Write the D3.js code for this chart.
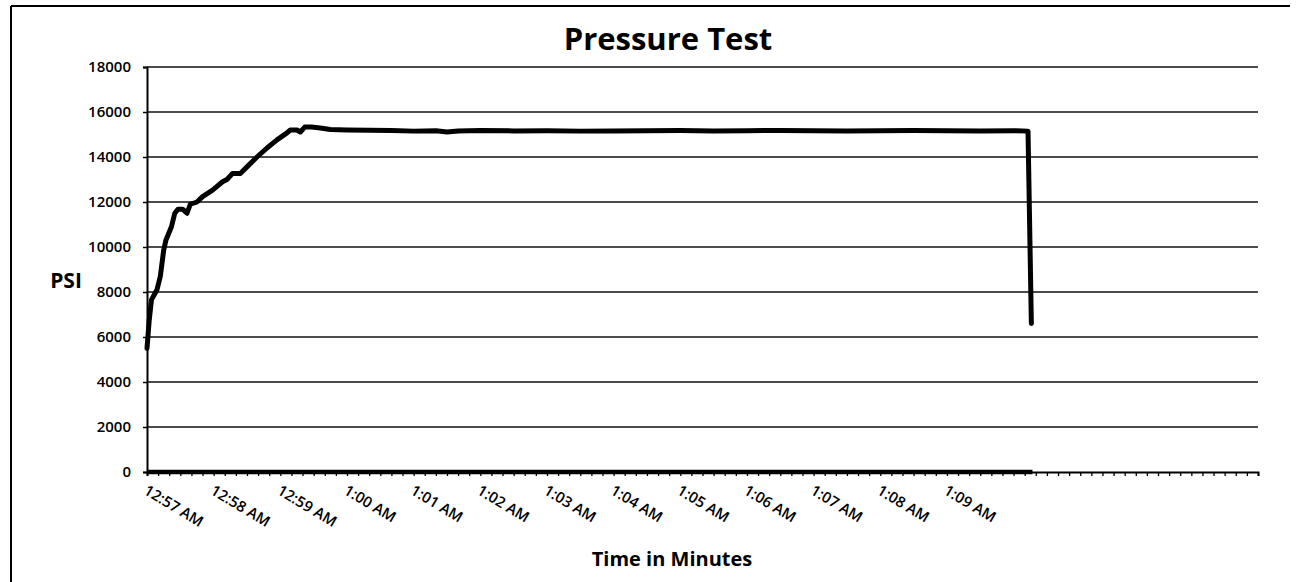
<!DOCTYPE html>
<html>
<head>
<meta charset="utf-8">
<script src="https://cdn.jsdelivr.net/npm/d3@7/dist/d3.min.js"></script>
<style>
  html, body { margin: 0; padding: 0; background: #fff; }
  svg { display: block; }
  text { font-family: "Open Sans", "Liberation Sans", sans-serif; fill: #000; }
</style>
</head>
<body>
<svg id="chart" width="1308" height="582"></svg>
<script>
// ---- data (seconds after 12:57:00 AM) ----
const pressureSeconds = [0, 2, 4, 9, 12, 15, 17, 22, 25, 28, 32, 36, 39, 45, 50, 59, 68, 72, 77, 84, 90, 99, 108, 117, 126, 129, 135, 138, 142, 148, 156, 165, 180, 200, 220, 240, 260, 270, 280, 300, 330, 360, 390, 420, 450, 480, 510, 540, 570, 600, 630, 660, 690, 720, 750, 780, 793, 796];
const pressurePsi     = [5500, 6750, 7650, 8100, 8700, 9850, 10300, 10900, 11500, 11680, 11680, 11500, 11900, 12000, 12240, 12530, 12900, 13000, 13270, 13270, 13560, 14000, 14400, 14760, 15070, 15200, 15200, 15110, 15330, 15330, 15290, 15220, 15200, 15190, 15180, 15150, 15170, 15110, 15160, 15180, 15160, 15170, 15150, 15160, 15170, 15180, 15160, 15170, 15180, 15170, 15160, 15170, 15180, 15170, 15160, 15170, 15150, 6600];
const baseSeconds = [0, 797];
const basePsi     = [0, 0];
const yTicks = [0, 2000, 4000, 6000, 8000, 10000, 12000, 14000, 16000, 18000];
const timeLabels = ["12:57 AM", "12:58 AM", "12:59 AM", "1:00 AM", "1:01 AM", "1:02 AM", "1:03 AM", "1:04 AM", "1:05 AM", "1:06 AM", "1:07 AM", "1:08 AM", "1:09 AM"];
const chartTitle = "Pressure Test";
const yTitle = "PSI";
const xTitle = "Time in Minutes";

// ---- layout ----
const svg = d3.select("#chart");
const pLeft = 147, pRight = 1258, pTop = 67, pBottom = 472;

const x = d3.scaleLinear().domain([0, 1000]).range([pLeft, pRight]);
const y = d3.scaleLinear().domain([0, 18000]).range([pBottom, pTop]);

// outer frame (top + left only visible)
svg.append("line").attr("x1", 11).attr("x2", 1290).attr("y1", 6).attr("y2", 6)
  .attr("stroke", "#000").attr("stroke-width", 2);
svg.append("line").attr("x1", 11).attr("x2", 11).attr("y1", 6).attr("y2", 582)
  .attr("stroke", "#000").attr("stroke-width", 2);

// gridlines
svg.append("g").selectAll("line").data(yTicks.filter(d => d > 0)).join("line")
  .attr("x1", pLeft).attr("x2", pRight)
  .attr("y1", d => y(d)).attr("y2", d => y(d))
  .attr("stroke", "#111").attr("stroke-width", 1.6);

// y axis
const yAxis = d3.axisLeft(y).tickValues(yTicks).tickSize(4).tickPadding(12).tickFormat(d3.format("d"));
const gy = svg.append("g").attr("transform", `translate(${pLeft},0)`).call(yAxis);
gy.select(".domain").attr("stroke", "#000").attr("stroke-width", 2);
gy.selectAll(".tick line").attr("stroke", "#000").attr("stroke-width", 1.5);
gy.selectAll(".tick text").style("font-size", "15px").style("font-weight", 600).attr("fill", "#000");

// x axis: tick every 10 seconds
const xTickVals = d3.range(0, 1001, 10);
const xAxis = d3.axisBottom(x).tickValues(xTickVals).tickSize(4).tickFormat("");
const gx = svg.append("g").attr("transform", `translate(0,${pBottom})`).call(xAxis);
gx.select(".domain").attr("stroke", "#000").attr("stroke-width", 2);
gx.selectAll(".tick line").attr("stroke", "#000").attr("stroke-width", 1.3);

// minute labels (rotated)
svg.append("g").selectAll("text").data(timeLabels).join("text")
  .attr("transform", (d, i) => `translate(${x(i * 60) + 2},${pBottom + 11}) rotate(31)`)
  .attr("text-anchor", "start")
  .attr("dy", "0.8em")
  .style("font-size", "15px").style("font-weight", 600)
  .text(d => d);

// series
const line = d3.line().x(d => x(d[0])).y(d => y(d[1]));
svg.append("path")
  .datum(d3.zip(baseSeconds, basePsi))
  .attr("d", line).attr("fill", "none").attr("stroke", "#000").attr("stroke-width", 4.5);
svg.append("path")
  .datum(d3.zip(pressureSeconds, pressurePsi))
  .attr("d", line).attr("fill", "none").attr("stroke", "#000")
  .attr("stroke-width", 5).attr("stroke-linejoin", "round").attr("stroke-linecap", "round");

// titles
svg.append("text").attr("x", 668).attr("y", 50).attr("text-anchor", "middle")
  .style("font-size", "31px").style("font-weight", 700).text(chartTitle);
svg.append("text").attr("x", 66).attr("y", 288).attr("text-anchor", "middle")
  .style("font-size", "21px").style("font-weight", 700).text(yTitle);
svg.append("text").attr("x", 672).attr("y", 566).attr("text-anchor", "middle")
  .style("font-size", "20px").style("font-weight", 700).text(xTitle);
</script>
</body>
</html>
